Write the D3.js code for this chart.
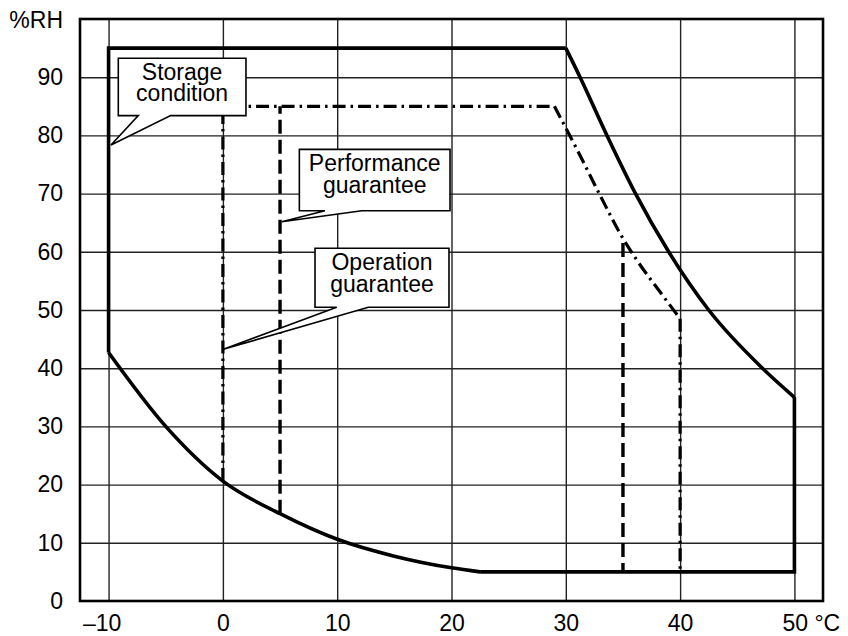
<!DOCTYPE html>
<html>
<head>
<meta charset="utf-8">
<script src="https://cdn.jsdelivr.net/npm/d3@7"></script>
<style>
  html, body { margin: 0; padding: 0; background: #fff; }
  svg { display: block; font-family: "Liberation Sans", Arial, sans-serif; }
</style>
</head>
<body>
<svg id="chart" width="848" height="636"></svg>
<script>
// ---- data (temperature °C, relative humidity %RH) ----
const xTicks = [-10, 0, 10, 20, 30, 40, 50];
const yTicks = [0, 10, 20, 30, 40, 50, 60, 70, 80, 90];
const xTickLabels = ["–10", "0", "10", "20", "30", "40", "50 °C"];
const yUnitLabel = "%RH";

// Storage condition: solid outline
const storageTop = [[-10, 42.7], [-10, 95], [30, 95]];
const storageHotCurve = [[30, 95], [31.25, 90], [33.6, 80], [36.1, 70], [39, 60], [42.5, 50], [47.2, 40], [50, 35]];
const storageRight = [[50, 35], [50, 5], [22.5, 5]];
const storageColdCurve = [[-10, 42.7], [-5, 30], [0, 20.6], [5, 15], [10, 10.6], [15, 7.7], [20, 5.7], [22.5, 5]];

// Operation guarantee: dash-dot outline (visible part)
const operationLeftTop = [[0, 20.6], [0, 85], [29, 85]];
const operationCurve = [[29, 85], [31, 77.5], [33, 69.7], [35, 62.3], [36.1, 58.9], [38.4, 52.7], [40, 48.5]];
const operationRight = [[40, 48.5], [40, 5]];

// Performance guarantee: dashed verticals
const performanceLeft = [[5, 15], [5, 85]];
const performanceRight = [[35, 61.5], [35, 5]];

// Callouts (data coordinates)
const callouts = [
  { lines: ["Storage", "condition"], box: [-9.15, 93.25, 2.02, 83.4], base: [-7.4, -4.57], tip: [-9.79, 78.35] },
  { lines: ["Performance", "guarantee"], box: [6.69, 77.6, 19.87, 67.06], base: [8.93, 12.14], tip: [5.15, 65.17] },
  { lines: ["Operation", "guarantee"], box: [8.06, 60.6, 19.78, 50.46], base: [9.96, 12.72], tip: [0.04, 43.25] }
];

// ---- layout ----
const svg = d3.select("#chart");
const L = 80, R = 823, T = 19, B = 601;
const x = d3.scaleLinear().domain([-12.5, 52.5]).range([L, R]);
const y = d3.scaleLinear().domain([0, 100]).range([B, T]);
const fontSize = 23;

// grid
const gx = svg.append("g").attr("transform", `translate(0,${B})`)
  .call(d3.axisBottom(x).tickValues(xTicks).tickSize(-(B - T)).tickFormat(""));
gx.select(".domain").remove();
gx.selectAll("line").attr("stroke", "#222").attr("stroke-width", 1.4);

const gy = svg.append("g").attr("transform", `translate(${L},0)`)
  .call(d3.axisLeft(y).tickValues(yTicks.filter(v => v > 0)).tickSize(-(R - L)).tickFormat(""));
gy.select(".domain").remove();
gy.selectAll("line").attr("stroke", "#222").attr("stroke-width", 1.4);

// frame
svg.append("rect").attr("x", L).attr("y", T).attr("width", R - L).attr("height", B - T)
  .attr("fill", "none").attr("stroke", "#000").attr("stroke-width", 2.6);

// tick labels
const xl = svg.append("g").attr("transform", `translate(0,${B})`)
  .call(d3.axisBottom(x).tickValues(xTicks).tickSize(0).tickPadding(13.5)
    .tickFormat((d, i) => xTickLabels[i]));
xl.select(".domain").remove();
xl.selectAll("text").attr("font-size", fontSize).attr("font-family", "Liberation Sans, Arial, sans-serif")
  .attr("fill", "#000")
  .each(function (d, i) {
    const t = d3.select(this);
    if (i === 0) t.attr("dx", -7);
    if (i === xTicks.length - 1) t.attr("text-anchor", "start").attr("dx", -12.5);
  });

const yl = svg.append("g").attr("transform", `translate(${L},0)`)
  .call(d3.axisLeft(y).tickValues(yTicks).tickSize(0).tickPadding(17));
yl.select(".domain").remove();
yl.selectAll("text").attr("font-size", fontSize).attr("font-family", "Liberation Sans, Arial, sans-serif")
  .attr("fill", "#000");

svg.append("text").attr("x", L - 17).attr("y", y(100) + 9)
  .attr("text-anchor", "end").attr("font-size", fontSize).text(yUnitLabel);

// lines
const lin = d3.line().x(d => x(d[0])).y(d => y(d[1]));
const crv = d3.line().x(d => x(d[0])).y(d => y(d[1])).curve(d3.curveMonotoneX);

const gS = svg.append("g").attr("fill", "none").attr("stroke", "#000").attr("stroke-width", 3.6)
  .attr("stroke-linejoin", "miter");
[lin(storageTop), crv(storageHotCurve), lin(storageRight), crv(storageColdCurve)]
  .forEach(p => gS.append("path").attr("d", p));

const gO = svg.append("g").attr("fill", "none").attr("stroke", "#000").attr("stroke-width", 3.2)
  .attr("stroke-dasharray", "13,5,2.5,5");
gO.append("path").attr("d", lin(operationLeftTop));
gO.append("path").attr("d", crv(operationCurve));
gO.append("path").attr("d", lin(operationRight));

const gP = svg.append("g").attr("fill", "none").attr("stroke", "#000").attr("stroke-width", 3.4)
  .attr("stroke-dasharray", "14,6");
gP.append("path").attr("d", lin(performanceLeft));
gP.append("path").attr("d", lin(performanceRight));

// callouts
callouts.forEach(c => {
  const [x0, y0, x1, y1] = c.box;
  const X0 = x(x0), Y0 = y(y0), X1 = x(x1), Y1 = y(y1);
  const p = `M${X0},${Y0}H${X1}V${Y1}H${x(c.base[1])}L${x(c.tip[0])},${y(c.tip[1])}L${x(c.base[0])},${Y1}H${X0}Z`;
  svg.append("path").attr("d", p).attr("fill", "#fff").attr("stroke", "#000").attr("stroke-width", 1.6)
    .attr("stroke-linejoin", "miter");
  const cx = (X0 + X1) / 2;
  const txt = svg.append("text").attr("text-anchor", "middle").attr("font-size", fontSize).attr("fill", "#000");
  c.lines.forEach((ln, i) => {
    txt.append("tspan").attr("x", cx).attr("y", Y0 + 21.5 + i * 21.7).text(ln);
  });
});
</script>
</body>
</html>
